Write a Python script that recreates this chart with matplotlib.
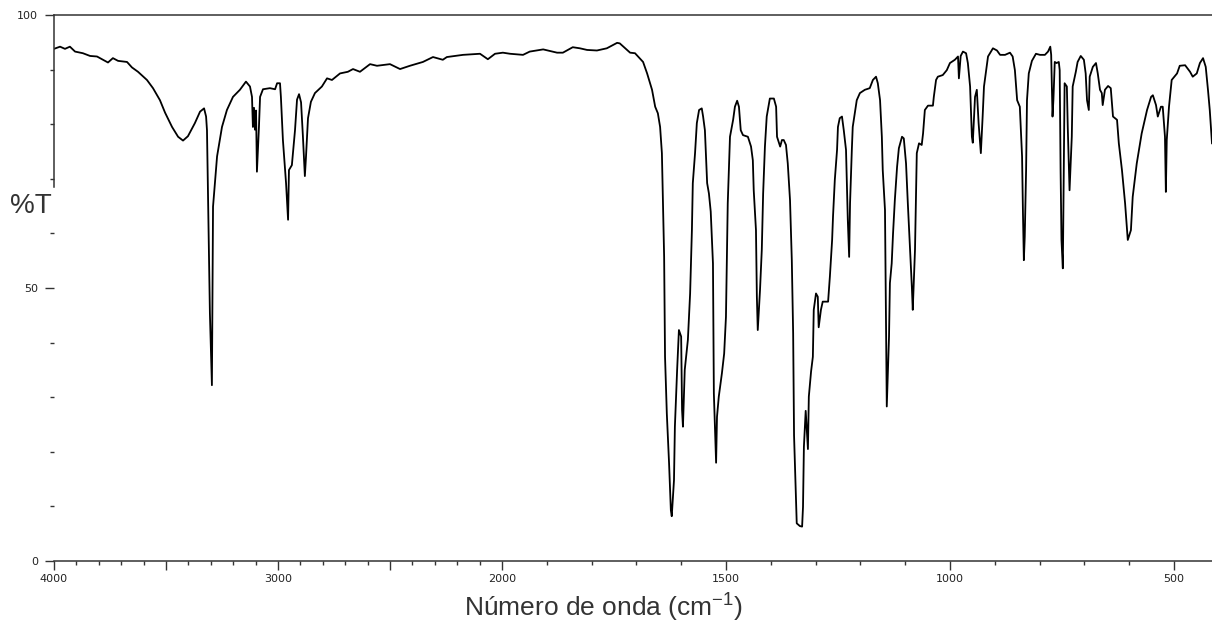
import numpy as np
import matplotlib
matplotlib.use("Agg")
import matplotlib.pyplot as plt
from matplotlib.spines import Spine
from matplotlib.ticker import FixedLocator, FixedFormatter

# --- spectrum: wavenumber (cm-1) and %T ---
wavenumber = [
    4000, 3973, 3951, 3929, 3906, 3871, 3839, 3808, 3772, 3759, 3737, 3714, 3674, 3652,
    3625, 3585, 3558, 3527, 3504, 3473, 3446, 3424, 3402, 3371, 3348, 3330, 3321, 3317,
    3313, 3304, 3295, 3290, 3272, 3250, 3228, 3201, 3170, 3143, 3125, 3116, 3112, 3107,
    3103, 3098, 3094, 3085, 3080, 3067, 3036, 3013, 3004, 2991, 2987, 2978, 2964, 2955,
    2951, 2938, 2924, 2915, 2906, 2897, 2889, 2880, 2875, 2866, 2853, 2835, 2804, 2781,
    2759, 2723, 2688, 2665, 2634, 2589, 2558, 2500, 2455, 2411, 2353, 2308, 2264, 2246,
    2174, 2098, 2063, 2031, 1998, 1982, 1953, 1938, 1908, 1877, 1864, 1842, 1826, 1810,
    1788, 1766, 1743, 1737, 1725, 1714, 1703, 1685, 1676, 1665, 1658, 1652, 1647, 1643,
    1641, 1638, 1636, 1632, 1627, 1623, 1621, 1616, 1614, 1609, 1605, 1600, 1598, 1596,
    1592, 1585, 1580, 1576, 1574, 1569, 1565, 1560, 1554, 1551, 1547, 1542, 1538, 1534,
    1529, 1527, 1525, 1522, 1520, 1516, 1509, 1504, 1500, 1498, 1496, 1491, 1484, 1480,
    1475, 1471, 1467, 1462, 1451, 1444, 1440, 1438, 1433, 1431, 1429, 1424, 1420, 1417,
    1413, 1409, 1402, 1393, 1388, 1386, 1379, 1375, 1371, 1366, 1362, 1357, 1353, 1350,
    1348, 1344, 1342, 1335, 1330, 1328, 1326, 1322, 1317, 1315, 1310, 1306, 1304, 1299,
    1295, 1293, 1288, 1284, 1272, 1268, 1263, 1261, 1257, 1252, 1250, 1246, 1241, 1237,
    1232, 1230, 1228, 1225, 1223, 1219, 1217, 1212, 1208, 1201, 1190, 1179, 1172, 1165,
    1161, 1156, 1152, 1150, 1145, 1143, 1141, 1136, 1134, 1130, 1127, 1123, 1118, 1114,
    1107, 1103, 1098, 1094, 1089, 1085, 1083, 1078, 1076, 1074, 1069, 1063, 1060, 1056,
    1049, 1038, 1036, 1031, 1027, 1016, 1007, 1000, 989, 982, 980, 976, 971, 964,
    960, 955, 951, 949, 944, 940, 936, 931, 927, 924, 915, 904, 895, 888,
    877, 866, 860, 855, 850, 844, 839, 837, 835, 833, 830, 828, 824, 817,
    808, 799, 788, 781, 776, 774, 771, 769, 766, 762, 757, 755, 753, 751,
    748, 746, 744, 739, 737, 733, 728, 726, 719, 715, 708, 701, 697, 694,
    690, 688, 681, 674, 670, 665, 661, 659, 654, 647, 641, 636, 627, 623,
    616, 609, 603, 596, 592, 583, 572, 560, 551, 547, 540, 536, 529, 525,
    520, 518, 516, 511, 505, 493, 487, 475, 464, 458, 449, 442, 435, 429,
    424, 420, 415,
]
transmittance = [
    93.8, 94.2, 93.8, 94.2, 93.3, 93.0, 92.5, 92.4, 91.6, 91.3, 92.1, 91.6, 91.4, 90.4,
    89.6, 88.1, 86.6, 84.4, 82.1, 79.5, 77.7, 77.0, 77.8, 80.2, 82.3, 82.9, 81.4, 78.9,
    68.9, 45.4, 32.2, 64.9, 74.1, 79.5, 82.6, 85.0, 86.3, 87.8, 86.9, 85.0, 79.5, 83.0,
    79.0, 82.5, 71.3, 79.5, 85.0, 86.4, 86.6, 86.4, 87.5, 87.5, 85.0, 77.1, 69.2, 62.5,
    71.6, 72.5, 78.9, 84.5, 85.5, 84.0, 78.0, 70.5, 74.0, 81.1, 84.1, 85.7, 86.9, 88.4,
    88.1, 89.3, 89.6, 90.1, 89.6, 91.0, 90.7, 91.0, 90.1, 90.7, 91.4, 92.3, 91.8, 92.3,
    92.7, 92.9, 91.9, 92.9, 93.1, 92.9, 92.7, 93.3, 93.7, 93.1, 93.1, 94.1, 93.9, 93.6,
    93.5, 93.9, 94.9, 94.8, 93.9, 93.1, 93.0, 91.4, 89.3, 86.3, 83.2, 82.0, 79.5, 74.7,
    67.3, 55.7, 37.4, 27.0, 17.9, 9.3, 8.2, 14.8, 24.6, 35.0, 42.3, 41.1, 27.7, 24.6,
    35.0, 40.5, 49.0, 60.6, 69.2, 74.7, 80.2, 82.6, 82.9, 81.4, 78.9, 69.2, 67.3, 64.0,
    54.5, 30.7, 25.8, 18.0, 26.4, 30.1, 34.4, 38.0, 44.7, 54.5, 65.5, 77.7, 80.8, 83.2,
    84.3, 83.2, 78.9, 78.0, 77.7, 75.9, 73.4, 67.9, 60.6, 48.4, 42.3, 49.6, 57.0, 67.3,
    75.9, 81.4, 84.7, 84.7, 83.2, 77.7, 75.9, 77.1, 77.1, 76.2, 72.8, 66.1, 55.1, 41.7,
    23.0, 12.6, 6.9, 6.4, 6.3, 9.9, 20.9, 27.5, 20.5, 30.1, 34.7, 37.4, 46.0, 49.0,
    48.4, 42.8, 46.0, 47.5, 47.5, 52.1, 58.8, 63.1, 69.8, 75.3, 79.5, 81.1, 81.4, 78.9,
    75.3, 69.2, 62.5, 55.7, 65.5, 75.3, 79.5, 82.3, 84.4, 85.7, 86.3, 86.6, 88.1, 88.7,
    87.5, 84.4, 77.7, 71.6, 64.3, 46.6, 28.3, 41.1, 50.9, 54.5, 60.0, 66.1, 72.2, 75.6,
    77.7, 77.4, 72.8, 65.5, 57.0, 50.2, 46.0, 57.0, 66.1, 74.7, 76.5, 76.2, 78.3, 82.6,
    83.4, 83.4, 85.0, 88.1, 88.7, 89.0, 89.9, 91.2, 91.8, 92.4, 88.4, 92.5, 93.3, 93.0,
    91.2, 86.9, 77.7, 76.6, 85.0, 86.3, 80.2, 74.7, 81.4, 86.9, 92.4, 93.9, 93.5, 92.7,
    92.7, 93.1, 92.4, 89.9, 84.4, 83.2, 74.1, 63.7, 55.1, 59.4, 71.6, 84.4, 89.3, 91.6,
    92.9, 92.7, 92.7, 93.3, 94.2, 92.7, 81.4, 84.5, 91.4, 91.2, 91.4, 89.9, 71.6, 58.8,
    53.6, 71.6, 87.5, 86.9, 79.5, 67.9, 77.7, 86.9, 89.6, 91.4, 92.5, 91.8, 89.3, 84.4,
    82.6, 88.7, 90.5, 91.2, 89.3, 86.3, 85.7, 83.5, 86.3, 87.0, 86.6, 81.4, 80.8, 76.5,
    71.6, 65.5, 58.8, 60.6, 66.7, 72.8, 78.3, 82.6, 85.0, 85.3, 83.5, 81.4, 83.2, 83.2,
    77.7, 67.6, 77.1, 83.2, 88.1, 89.3, 90.7, 90.8, 89.6, 88.7, 89.3, 91.2, 92.1, 90.5,
    86.3, 82.6, 76.5,
]

major_ticks = [4000, 3500, 3000, 2500, 2000, 1500, 1000, 500]
major_labels = ["4000", "", "3000", "", "2000", "1500", "1000", "500"]
minor_ticks = list(range(500, 4001, 100))
y_major = [0, 50, 100]
y_labels = ["0", "50", "100"]
y_minor = list(range(0, 101, 10))


# x axis is compressed 2:1 above 2000 cm-1, as on the instrument chart
def fwd(w):
    w = np.asarray(w, dtype=float)
    return np.where(w <= 2000, w / 500.0, 4.0 + (w - 2000.0) / 1000.0)


def inv(v):
    v = np.asarray(v, dtype=float)
    return np.where(v <= 4, v * 500.0, 2000.0 + (v - 4.0) * 1000.0)


W, H = 1212, 624
fig = plt.figure(figsize=(W / 100, H / 100), dpi=100)
ax = fig.add_axes([54 / W, (H - 561) / H, (W - 54) / W, (561 - 15) / H])

ax.plot(wavenumber, transmittance, color="black", linewidth=1.3)

ax.set_xscale("function", functions=(fwd, inv))
ax.set_xlim(4000, 415)
ax.set_ylim(0, 100)

ax.xaxis.set_major_locator(FixedLocator(major_ticks))
ax.xaxis.set_major_formatter(FixedFormatter(major_labels))
ax.xaxis.set_minor_locator(FixedLocator(minor_ticks))
ax.yaxis.set_major_locator(FixedLocator(y_major))
ax.yaxis.set_major_formatter(FixedFormatter(y_labels))
ax.yaxis.set_minor_locator(FixedLocator(y_minor))

spine_col = "#333333"
ax.tick_params(which="major", direction="out", length=6.5, width=1.0,
               color=spine_col, labelsize=8, labelcolor="#222222")
ax.tick_params(which="minor", direction="out", length=2.8, width=1.0, color=spine_col)
ax.tick_params(axis="x", which="major", pad=3)
ax.tick_params(axis="y", which="major", pad=5)

ax.spines["right"].set_visible(False)
for name in ["top", "bottom", "left"]:
    ax.spines[name].set_color(spine_col)
    ax.spines[name].set_linewidth(1.1)

# left axis line is broken where the %T label sits
ax.spines["left"].set_bounds(68.5, 100)
lower = Spine.linear_spine(ax, "left")
lower.set_bounds(0, 62.8)
lower.set_color(spine_col)
lower.set_linewidth(1.1)
ax.spines["left_lower"] = lower

fig.text(10 / W, (H - 213) / H, "%T", fontsize=20, family="Liberation Sans",
         color="#333333", ha="left", va="baseline")
plt.rcParams["mathtext.default"] = "regular"
fig.text(603 / W, (H - 617) / H, "Número de onda (cm$^{-1}$)", fontsize=19,
         family="Liberation Sans", color="#333333", ha="center", va="baseline")

fig.savefig("out.png", dpi=100)
